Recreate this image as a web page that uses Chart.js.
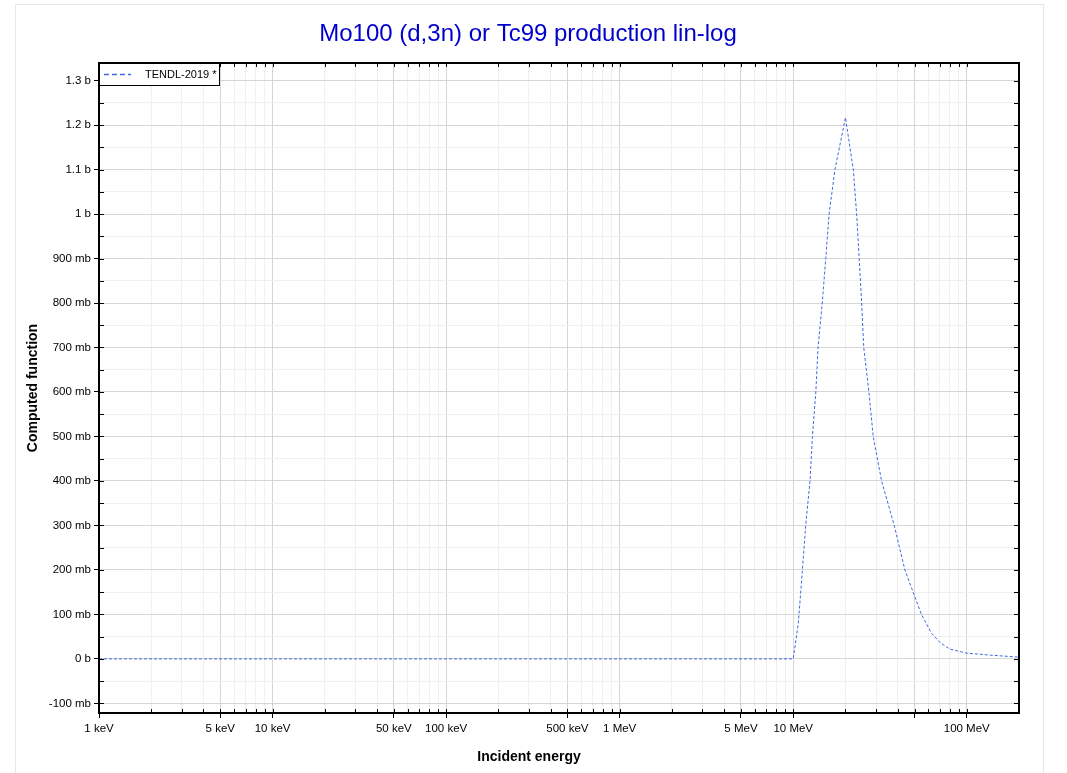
<!DOCTYPE html>
<html>
<head>
<meta charset="utf-8">
<script src="https://cdn.jsdelivr.net/npm/chart.js@4.4.0/dist/chart.umd.min.js"></script>
<style>
  body { margin: 0; background: #fff; }
  #frame { position: absolute; left: 15px; top: 4px; width: 1027px; height: 800px; border: 1px solid #e6e6e6; }
  #wrap { position: absolute; left: 0; top: 0; width: 1067px; height: 773px; }
</style>
</head>
<body>
<div id="frame"></div>
<div id="wrap"><canvas id="chart" width="1067" height="773"></canvas></div>
<script>
// energies in MeV, cross section in barns
const energyMeV = [0.001, 10.0, 10.7, 11.3, 11.8, 12.5, 12.9, 13.5, 13.9, 14.7, 15.4, 16.1, 17.4, 20.0,
  22.2, 23.2, 24.0, 24.8, 25.5, 27.3, 28.9, 32.3, 38.2, 44.0, 49.1, 54.8, 62.6, 70.0, 79.9, 99.6, 141.7, 200];
const xsBarn = [0, 0, 0.08, 0.20, 0.30, 0.40, 0.50, 0.60, 0.70, 0.80, 0.90, 1.00, 1.10, 1.217,
  1.10, 1.00, 0.90, 0.80, 0.70, 0.60, 0.50, 0.40, 0.30, 0.20, 0.15, 0.10, 0.058, 0.037, 0.022, 0.013, 0.008, 0.004];

const chartTitle = 'Mo100 (d,3n) or Tc99 production lin-log';
const xTitle = 'Incident energy';
const yTitle = 'Computed function';
const seriesLabel = 'TENDL-2019 *';
const xLabelled = [0.001, 0.005, 0.01, 0.05, 0.1, 0.5, 1, 5, 10, 100];
const xMajor = [0.001, 0.005, 0.01, 0.05, 0.1, 0.5, 1, 5, 10, 50, 100];
const yTickValues = [];
for (let i = -2; i <= 26; i++) yTickValues.push(Math.round(i * 50) / 1000);

const FONT = 'Arial, "Liberation Sans", sans-serif';

function isClose(a, list) {
  return list.some(v => Math.abs(a - v) / v < 1e-6);
}
function energyText(v) {
  if (v < 1) return Math.round(v * 1000) + ' keV';
  return Math.round(v) + ' MeV';
}
function barnText(v) {
  if (Math.abs(v) < 1e-9) return '0 b';
  if (v >= 1) return (Math.round(v * 10) / 10) + ' b';
  return Math.round(v * 1000) + ' mb';
}
function isMajorY(v) {
  return Math.abs(Math.round(v * 1000) % 100) === 0;
}

const frameTicks = {
  id: 'frameTicks',
  afterDraw(chart) {
    const { ctx, chartArea: a, scales } = chart;
    ctx.save();
    ctx.strokeStyle = '#000';
    ctx.lineWidth = 1;
    ctx.beginPath();
    scales.x.ticks.forEach(t => {
      const px = Math.round(scales.x.getPixelForValue(t.value)) + 0.5;
      ctx.moveTo(px, a.bottom); ctx.lineTo(px, a.bottom - 4);
      ctx.moveTo(px, a.top); ctx.lineTo(px, a.top + 4);
    });
    scales.y.ticks.forEach(t => {
      const py = Math.round(scales.y.getPixelForValue(t.value)) + 0.5;
      ctx.moveTo(a.left, py); ctx.lineTo(a.left + 5, py);
      ctx.moveTo(a.right, py); ctx.lineTo(a.right - 5, py);
    });
    ctx.stroke();
    ctx.lineWidth = 2;
    ctx.strokeRect(a.left, a.top, a.right - a.left, a.bottom - a.top);

    // legend box
    const lx = a.left, ly = a.top, lw = 120, lh = 22;
    ctx.fillStyle = '#fff';
    ctx.fillRect(lx, ly, lw, lh);
    ctx.lineWidth = 1;
    ctx.strokeRect(lx + 0.5, ly + 0.5, lw, lh);
    const ds = chart.data.datasets[0];
    ctx.strokeStyle = ds.borderColor;
    ctx.lineWidth = 1.5;
    ctx.setLineDash([5, 3]);
    ctx.beginPath();
    ctx.moveTo(lx + 5, ly + 11.5); ctx.lineTo(lx + 32, ly + 11.5);
    ctx.stroke();
    ctx.setLineDash([]);
    ctx.fillStyle = '#000';
    ctx.font = '11px ' + FONT;
    ctx.textBaseline = 'middle';
    ctx.textAlign = 'left';
    ctx.fillText(ds.label, lx + 46, ly + 11.5);

    // chart title and x axis title, centred on the outer frame
    ctx.textAlign = 'center';
    ctx.fillStyle = '#0000cc';
    ctx.font = '24px ' + FONT;
    ctx.fillText(chartTitle, 528, 34);
    ctx.fillStyle = '#000';
    ctx.font = 'bold 14px ' + FONT;
    ctx.fillText(xTitle, 529, 757);
    ctx.restore();
  }
};

new Chart(document.getElementById('chart'), {
  type: 'line',
  data: {
    datasets: [{
      label: seriesLabel,
      data: energyMeV.map((e, i) => ({ x: e, y: xsBarn[i] })),
      borderColor: 'rgb(65,105,225)',
      borderWidth: 1,
      borderDash: [3, 2],
      pointRadius: 0,
      tension: 0,
      fill: false
    }]
  },
  options: {
    responsive: false,
    animation: false,
    layout: { padding: { left: 0, right: 48, top: 63, bottom: 0 } },
    plugins: {
      legend: { display: false },
      tooltip: { enabled: false },
      title: { display: false }
    },
    scales: {
      x: {
        type: 'logarithmic',
        min: 0.001,
        max: 200,
        afterBuildTicks(scale) {
          const ticks = [];
          for (let e = -3; e <= 2; e++) {
            for (let k = 1; k <= 9; k++) {
              const v = Number((k * Math.pow(10, e)).toPrecision(6));
              if (v >= 0.001 && v <= 200) ticks.push({ value: v });
            }
          }
          scale.ticks = ticks;
        },
        afterFit(scale) { scale.height = 60; },
        ticks: {
          autoSkip: false,
          maxRotation: 0,
          padding: 4,
          color: '#000',
          font: { family: FONT, size: 11.5 },
          callback: v => isClose(v, xLabelled) ? energyText(v) : ''
        },
        grid: {
          color: c => isClose(c.tick.value, xMajor) ? '#d6d6d6' : '#f0f0f0',
          tickColor: c => isClose(c.tick.value, xMajor) ? '#000' : 'rgba(0,0,0,0)',
          tickLength: 5,
          lineWidth: 1
        },
        border: { color: '#000', width: 2 },
        title: { display: false }
      },
      y: {
        type: 'linear',
        min: -0.1216,
        max: 1.3395,
        afterBuildTicks(scale) {
          scale.ticks = yTickValues.map(v => ({ value: v }));
        },
        afterFit(scale) { scale.width = 99; },
        ticks: {
          padding: 3,
          color: '#000',
          font: { family: FONT, size: 11.5 },
          callback: v => isMajorY(v) ? barnText(v) : ''
        },
        grid: {
          color: c => isMajorY(c.tick.value) ? '#d6d6d6' : '#f0f0f0',
          tickColor: c => isMajorY(c.tick.value) ? '#000' : 'rgba(0,0,0,0)',
          tickLength: 5,
          lineWidth: 1
        },
        border: { color: '#000', width: 2 },
        title: {
          display: true,
          text: yTitle,
          color: '#000',
          font: { family: FONT, size: 14, weight: 'bold' },
          padding: { top: 25, bottom: 0 }
        }
      }
    }
  },
  plugins: [frameTicks]
});
</script>
</body>
</html>
